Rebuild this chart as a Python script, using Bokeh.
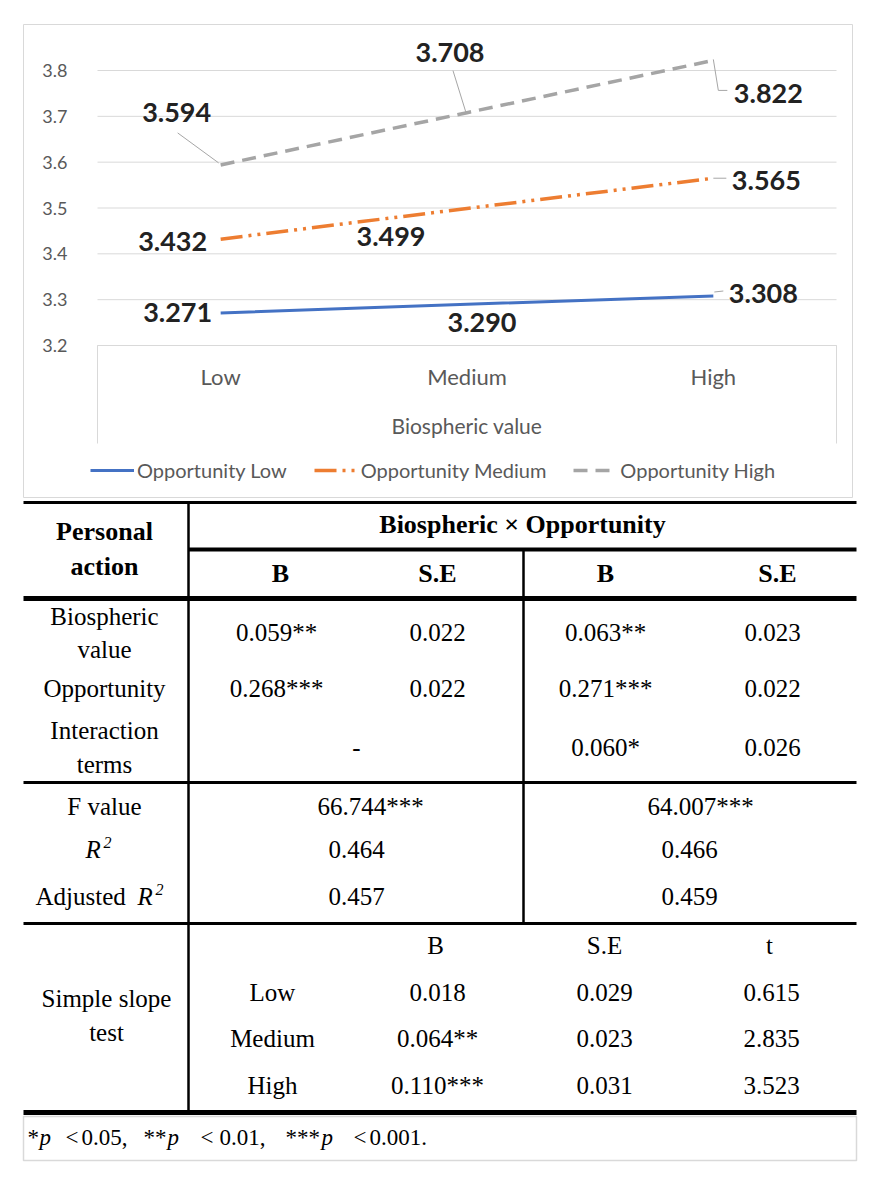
from bokeh.plotting import figure
from bokeh.models import (Range1d, FixedTicker, Legend, LegendItem, ColumnDataSource)
from bokeh.embed import file_html
from bokeh.resources import INLINE
from bokeh.core.properties import value

# ---------------- chart data ----------------
categories = ["Low", "Medium", "High"]
series_names = ["Opportunity Low", "Opportunity Medium", "Opportunity High"]
opp_low = [3.271, 3.290, 3.308]
opp_medium = [3.432, 3.499, 3.565]
opp_high = [3.594, 3.708, 3.822]
y_ticks = [3.2, 3.3, 3.4, 3.5, 3.6, 3.7, 3.8]
x_title = "Biospheric value"

# ---------------- table data ----------------
head_left = ["Personal", "action"]
head_group = "Biospheric × Opportunity"
coef_headers = ["B", "S.E", "B", "S.E"]
row_labels = [["Biospheric", "value"], ["Opportunity"], ["Interaction", "terms"]]
m1_B = ["0.059**", "0.268***", "-"]
m1_SE = ["0.022", "0.022", ""]
m2_B = ["0.063**", "0.271***", "0.060*"]
m2_SE = ["0.023", "0.022", "0.026"]
fit_labels = ["F value", "R", "Adjusted"]
m1_fit = ["66.744***", "0.464", "0.457"]
m2_fit = ["64.007***", "0.466", "0.459"]
slope_title = ["Simple slope", "test"]
slope_headers = ["B", "S.E", "t"]
slope_levels = ["Low", "Medium", "High"]
slope_B = ["0.018", "0.064**", "0.110***"]
slope_SE = ["0.029", "0.023", "0.031"]
slope_t = ["0.615", "2.835", "3.523"]
foot_parts = ["*", "p", "<", "0.05,", "**", "p", "<", "0.01,", "***", "p", "<", "0.001."]
foot_italic = [False, True, False, False, False, True, False, False, False, True, False, False]

# ---------------- chart ----------------
W = 883
CH = 498
BOX_L, BOX_R, BOX_T, BOX_B = 23, 852, 24, 497      # chart border (page px)
PA_L, PA_R = 97, 836                               # plot area left/right (page px)
Y_LO_PX, Y_HI_PX = 345, 70                          # page y of first / last tick
CAT_BOX_B = 443                                     # bottom of category box

n = len(categories)
px_x = (PA_R - PA_L) / n
px_y = (Y_LO_PX - Y_HI_PX) / (y_ticks[-1] - y_ticks[0])
x0r = -(PA_L - BOX_L) / px_x
x1r = n + (BOX_R - PA_R) / px_x
y0r = y_ticks[0] - (BOX_B - Y_LO_PX) / px_y
y1r = y_ticks[-1] + (Y_HI_PX - BOX_T) / px_y
y_box = y_ticks[0] - (CAT_BOX_B - Y_LO_PX) / px_y

p = figure(width=W, height=CH, output_backend="svg", toolbar_location=None,
           x_range=Range1d(x0r, x1r), y_range=Range1d(y0r, y1r),
           min_border_left=BOX_L, min_border_right=W - BOX_R,
           min_border_top=BOX_T, min_border_bottom=CH - BOX_B,
           background_fill_color="white", border_fill_color="white")
p.outline_line_color = "#D9D9D9"
p.outline_line_width = 1
p.grid.visible = False

xs = [i + 0.5 for i in range(n)]
GRAY_TXT = "#595959"
GRID = "#D9D9D9"

ya = p.yaxis[0]
ya.fixed_location = 0
ya.ticker = FixedTicker(ticks=y_ticks, minor_ticks=[])
ya.axis_line_color = None
ya.major_tick_line_color = None
ya.minor_tick_line_color = None
ya.major_label_standoff = 24
ya.major_label_text_font = "Lato"
ya.major_label_text_font_size = "18px"
ya.major_label_text_color = GRAY_TXT

xa = p.xaxis[0]
xa.fixed_location = y_ticks[0]
xa.bounds = (0, n)
xa.ticker = FixedTicker(ticks=xs, minor_ticks=[])
xa.major_label_overrides = {x: c for x, c in zip(xs, categories)}
xa.axis_line_color = GRID
xa.major_tick_out = 0
xa.major_tick_in = 0
xa.minor_tick_line_color = None
xa.major_label_standoff = 17
xa.major_label_text_font = "Lato"
xa.major_label_text_font_size = "22px"
xa.major_label_text_color = GRAY_TXT
xa.axis_label = x_title
xa.axis_label_standoff = 20
xa.axis_label_text_font = "Lato"
xa.axis_label_text_font_size = "21px"
xa.axis_label_text_font_style = "normal"
xa.axis_label_text_color = GRAY_TXT

# horizontal gridlines across the plot area
p.segment(x0=[0] * len(y_ticks), y0=y_ticks, x1=[n] * len(y_ticks), y1=y_ticks,
          line_color=GRID, line_width=1)
# side edges of the category box below the value axis
p.segment(x0=[0, n], y0=[y_box, y_box], x1=[0, n], y1=[y_ticks[0]] * 2,
          line_color=GRID, line_width=1)

series = [opp_low, opp_medium, opp_high]
colors = ["#4472C4", "#ED7D31", "#A5A5A5"]
dashes = ["solid", "22 6 3 6 3 6", "14 8"]
widths = [3, 3.5, 3.5]
renderers = []
for vals, col, dash, lw in zip(series, colors, dashes, widths):
    r = p.line(xs, vals, line_color=col, line_width=lw, line_dash=dash)
    renderers.append(r)

# leader lines (pixel offsets relative to their data point)
leader_px = {
    (2, 0): [(-43, -32), (-2, -2)],
    (2, 1): [(-14, -42), (-1, 0)],
    (2, 2): [(0, -1), (5, 30), (14, 30)],
    (1, 2): [(0, 0), (13, 0)],
    (0, 2): [(1, -4), (10, -5)],
}
lx, ly = [], []
for (s, i), pts in leader_px.items():
    lx.append([xs[i] + dx / px_x for dx, dy in pts])
    ly.append([series[s][i] - dy / px_y for dx, dy in pts])
p.multi_line(lx, ly, line_color="#A6A6A6", line_width=1)

# data labels
label_off = [
    [(-43, 0), (15, 18), (50, -3)],
    [(-48, 2), (-76, 28), (53, 2)],
    [(-44, -52), (-17, -60), (55, 33)],
]
lab = dict(x=[], y=[], text=[], xo=[], yo=[])
for s, vals in enumerate(series):
    for i, v in enumerate(vals):
        lab["x"].append(xs[i]); lab["y"].append(v)
        lab["text"].append(f"{v:.3f}")
        lab["xo"].append(label_off[s][i][0]); lab["yo"].append(label_off[s][i][1])
p.text(x="x", y="y", text="text", x_offset="xo", y_offset="yo",
       source=ColumnDataSource(lab), text_font=value("Lato"),
       text_font_size=value("27px"), text_font_style="bold",
       text_color="#222222", text_align="center", text_baseline="middle")

legend = Legend(items=[LegendItem(label=nm, renderers=[r]) for nm, r in zip(series_names, renderers)],
                orientation="horizontal", location=(67, 15),
                glyph_width=44, glyph_height=20, label_standoff=3, spacing=27,
                padding=0, margin=0, border_line_color=None,
                background_fill_alpha=0, label_text_font="Lato",
                label_text_font_size="20px", label_text_color=GRAY_TXT)
p.add_layout(legend)

# ---------------- table ----------------
TOP = CH
TH = 684
t = figure(width=W, height=TH, output_backend="svg", toolbar_location=None,
           x_range=Range1d(0, W), y_range=Range1d(TOP + TH, TOP),
           x_axis_type=None, y_axis_type=None, min_border=0,
           background_fill_color="white", border_fill_color="white")
t.grid.visible = False
t.outline_line_color = None

L, R = 23, 856
VX1, VX2 = 188, 523
hlines = [(L, R, 502, 3), (VX1, R, 549, 4), (L, R, 598, 5), (L, R, 782, 3),
          (L, R, 923, 3), (L, R, 1112, 5)]
for x0, x1, yy, w in hlines:
    t.segment(x0, yy, x1, yy, line_color="black", line_width=w)
t.segment(VX1, 502, VX1, 1112, line_color="black", line_width=2.5)
t.segment(VX2, 549, VX2, 923, line_color="black", line_width=2.5)
t.quad(left=L, right=R, top=1116, bottom=1160, fill_color="white",
       line_color="#D9D9D9", line_width=1.5)

SERIF = value("Liberation Serif")

def txt(xv, yv, texts, size="25px", style="normal", align="center"):
    t.text(x=xv, y=yv, text=texts, text_font=SERIF, text_font_size=value(size),
           text_font_style=style, text_color="black", text_align=align,
           text_baseline="middle")

LX = 104
coef_x = [276, 437, 605, 772]
span_x = [356, 689]

txt([LX, LX], [531, 566], head_left, size="26px", style="bold")
txt([522], [524], [head_group], size="26px", style="bold")
txt([280, 437, 605, 777], [573] * 4, coef_headers, size="26px", style="bold")

row_y = [632, 688, 747]
label_lines_y = [[616, 649], [688], [730, 764]]
for labels, ys in zip(row_labels, label_lines_y):
    txt([LX] * len(labels), ys, labels)
txt([coef_x[0], coef_x[0]], row_y[:2], m1_B[:2])
txt([coef_x[1], coef_x[1]], row_y[:2], m1_SE[:2])
txt([span_x[0]], [row_y[2]], [m1_B[2]])
txt([coef_x[2]] * 3, row_y, m2_B)
txt([coef_x[3]] * 3, row_y, m2_SE)

fit_y = [806, 849, 896]
txt([LX], [fit_y[0]], [fit_labels[0]])
txt([85], [fit_y[1]], [fit_labels[1]], style="italic", align="left")
txt([103], [fit_y[1] - 7], ["2"], size="16px", style="italic", align="left")
txt([35], [fit_y[2]], [fit_labels[2]], align="left")
txt([137], [fit_y[2]], ["R"], style="italic", align="left")
txt([155], [fit_y[2] - 7], ["2"], size="16px", style="italic", align="left")
txt([370, 356, 356], fit_y, m1_fit)
txt([700, 689, 689], fit_y, m2_fit)

slope_hx = [435, 604, 769]
txt(slope_hx, [945] * 3, slope_headers)
txt([106, 106], [998, 1032], slope_title)
sy = [992, 1038, 1085]
txt([272] * 3, sy, slope_levels)
txt([437] * 3, sy, slope_B)
txt([604] * 3, sy, slope_SE)
txt([771] * 3, sy, slope_t)

foot_x = [27, 39, 65, 81, 143, 167, 200, 219, 285, 321, 353, 369]
for part, it, fx in zip(foot_parts, foot_italic, foot_x):
    txt([fx], [1137], [part], size="23px", style="italic" if it else "normal", align="left")

open("out.html", "w").write(file_html([p, t], INLINE))
